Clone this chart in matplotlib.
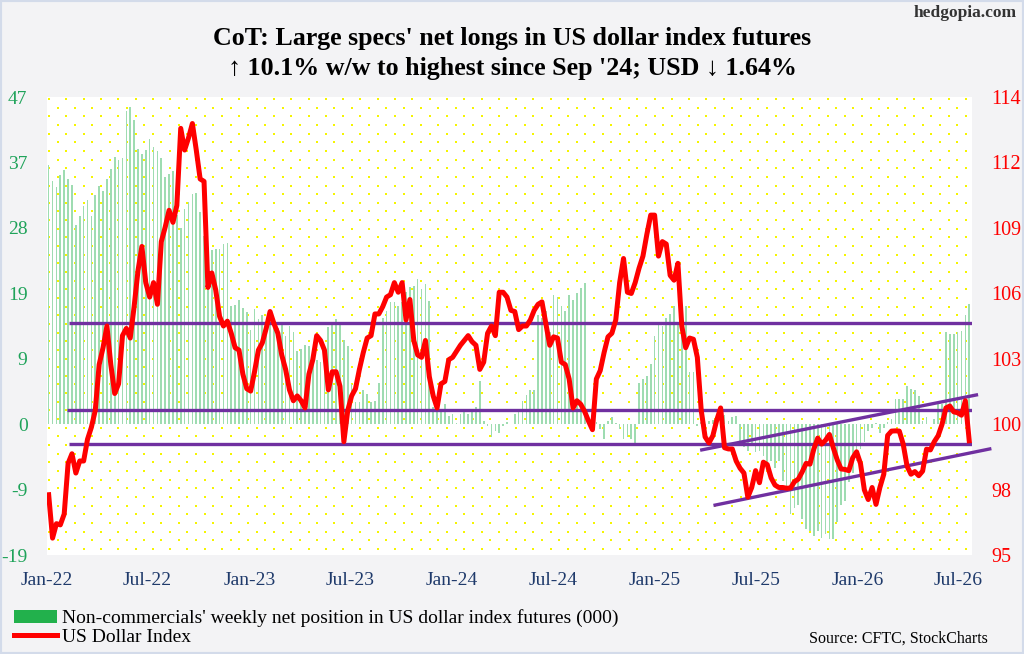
import numpy as np
import pandas as pd
import matplotlib
matplotlib.use('Agg')
import matplotlib.pyplot as plt
from matplotlib.patches import Patch, Rectangle
from matplotlib.lines import Line2D

plt.rcParams['font.family'] = ['Liberation Serif', 'DejaVu Serif']

# weekly CoT dates
weeks = pd.date_range('2022-01-04', periods=238, freq='7D')

# non-commercials' net position in US dollar index futures (000 contracts)
net_longs = [
    36.95, 34.7, 33.8, 35.5, 36.2, 34.9, 34.1, 28.4, 29.7, 31.05,
    31.96, 29.7, 32.7, 34.0, 33.2, 34.9, 36.4, 38.1, 37.7, 38.0,
    44.7, 45.2, 43.4, 39.3, 38.5, 39.1, 40.7, 39.5, 38.9, 38.0,
    35.2, 35.7, 36.1, 29.8, 28.0, 30.7, 31.7, 32.8, 32.96, 30.2,
    26.9, 24.0, 24.9, 25.0, 25.0, 25.7, 25.9,
    16.8, 17.0, 17.7, 16.5, 16.0, 13.4, 16.4, 15.0, 15.5, 14.5, 15.0,
    14.5, 13.65, 14.1, 12.6, 14.0, 13.2, 10.5, 10.7, 11.3, 11.1,
    9.75, 9.2, 8.8, 10.7, 13.9, 14.5, 15.0, 14.5, 12.0, 11.1,
    5.7, 3.1, 3.1, 4.9, 4.3, 3.1, 3.3, 5.9, 15.2, 16.2,
    17.4, 17.4, 16.9, 17.4, 18.8, 19.5, 19.7, 20.7, 19.3, 20.0,
    17.6, 2.4, 2.9, 2.1, 2.9, 1.2, 1.4, 0.2, 1.4, 1.9,
    1.4, 1.7, 2.4, 6.2, 0.5, -0.2, -1.9, -1.0, -1.2, -0.2,
    0.3,
    0.0, 1.4, 1.9, 3.3, 4.1, 4.8, 4.8, 15.5, 15.1, 16.2,
    13.1, 18.4, 18.1, 16.9, 16.2, 18.4, 17.7, 18.7, 19.4, 20.2,
    0.3, -0.3, 0.3, -0.7, -2.1, 0.5, 1.0, 0.2, -0.7, -2.1, -1.9, -2.1, -3.1,
    5.9, 6.4, 6.9, 8.6, 12.6, 14.3, 14.0, 15.2, 15.7, 16.9, 14.5, 14.5, 16.9, 7.4, 7.4,
    -0.2, 0.3, -0.7, 0.4, 0.6, 0.9, 0.4, 1.3, 0.5,
    0.95, 1.2,
    -2.4, -3.3, -3.8, -3.1, -4.0, -3.8, -4.5, -5.7, -5.2, -6.2,
    -5.2, -8.1, -8.8, -12.8, -11.9, -11.6, -13.5, -15.0, -15.2, -15.9,
    -15.2, -16.2, -15.7, -16.4, -16.4, -14.0, -11.6, -10.9, -8.3, -6.9,
    -5.2, -3.6, -2.6, -1.0, -0.5, 0.2, -1.2,
    -0.5, 0.3, 0.8, 3.6, 3.6, 3.6, 5.5, 5.0, 4.8, 4.0,
    0.5, 0.95, 0.0, 0.7, 3.1, 2.9, 13.1, 12.8, 12.8, 13.2,
    13.3, 15.6, 17.2,
]

# US dollar index, weekly close
usd = [
    97.5, 95.7, 96.3, 96.25, 96.7, 98.8, 99.2, 98.4, 98.9, 98.9,
    99.8, 100.3, 101.0, 102.9, 103.6, 104.5, 102.9, 101.7, 102.1, 104.1,
    104.4, 104.0, 105.3, 106.8, 107.8, 106.3, 105.7, 106.3, 105.4, 108.0,
    108.6, 109.3, 108.8, 109.5, 112.7, 111.8, 112.3, 112.9, 111.8, 110.6,
    110.5, 106.1, 106.7, 106.0, 104.9, 104.5, 104.7, 104.2, 103.6, 103.5,
    102.5, 101.9, 101.8, 102.6, 103.5, 103.8, 104.4, 105.1, 104.6, 104.2,
    103.3,
    102.7, 101.85, 101.4, 101.6, 101.4, 101.1, 102.5, 103.1, 104.1, 103.9,
    103.5, 101.85, 102.6, 102.6, 102.0, 99.7, 101.0, 101.6, 101.9, 102.7,
    103.4, 104.0, 104.1, 105.0, 105.0, 105.3, 105.7, 105.8, 106.3, 105.9,
    106.3, 104.75, 105.6, 103.9, 103.3, 103.2, 103.9, 102.4, 101.6, 101.1,
    102.1, 102.2, 103.1, 103.2, 103.45, 103.7, 103.9, 104.1, 103.85, 103.7,
    102.7, 103.0, 104.2, 104.5, 104.1, 105.9, 105.9, 105.7,
    105.15, 105.1, 104.35, 104.5, 104.5, 104.75, 105.15, 105.4, 105.5, 104.6,
    103.7, 104.05, 104.0, 103.0, 102.9, 102.3, 101.1, 101.4, 101.25, 100.95,
    100.55, 100.2, 102.3, 102.65, 103.4, 104.05, 104.2, 104.75, 106.3, 107.3,
    105.9, 105.85, 106.3, 106.9, 107.4, 108.3, 109.1, 109.1, 107.4, 108.0,
    107.9, 106.6, 106.4, 107.1, 104.5, 103.6, 104.0, 103.95, 103.2, 101.0,
    99.9, 99.65, 99.95, 100.6, 101.1, 99.45, 99.4,
    99.4, 98.9, 98.6, 98.4, 97.4, 97.8, 98.5, 98.0, 98.85, 98.75,
    98.2, 97.9, 97.8, 97.8, 97.77, 97.78, 98.04, 98.15, 98.45, 98.8,
    98.77, 99.4, 99.85, 99.6, 99.76, 100.0, 99.45, 98.95, 98.57, 98.55,
    98.5, 99.03, 99.28, 98.8, 97.7, 97.3, 97.8, 97.1, 97.8, 98.35,
    99.96, 100.14, 100.15, 100.14, 99.6, 98.68, 98.35, 98.46, 98.29, 98.48,
    99.39, 99.36, 99.7, 99.95, 100.42, 101.1, 101.18, 100.94, 100.9, 100.8,
    101.4, 99.74,
]

left_labels = ['-19', '-9', '0', '9', '19', '28', '37', '47']
right_labels = ['95', '98', '100', '103', '106', '109', '112', '114']
x_labels = ['Jan-22', 'Jul-22', 'Jan-23', 'Jul-23', 'Jan-24',
            'Jul-24', 'Jan-25', 'Jul-25', 'Jan-26', 'Jul-26']
x_label_dates = pd.to_datetime(['2022-01-01', '2022-07-01', '2023-01-01', '2023-07-01',
                                '2024-01-01', '2024-07-01', '2025-01-01', '2025-07-01',
                                '2026-01-01', '2026-07-01'])

# horizontal support/resistance on USD and the rising channel
h_levels = [104.62, 101.01, 99.60]
h_starts = pd.to_datetime(['2022-02-09', '2022-02-06', '2022-02-10'])
chan_lower_x = pd.to_datetime(['2025-04-19', '2026-08-27'])
chan_lower_y = [97.07, 99.40]
chan_upper_x = pd.to_datetime(['2025-03-26', '2026-08-03'])
chan_upper_y = [99.36, 101.64]

x_left = pd.Timestamp('2022-01-01')
x_right = pd.Timestamp('2026-07-26')

fig = plt.figure(figsize=(10.24, 6.54), dpi=100, facecolor='#f3f3f5')
ax = fig.add_axes([47 / 1024, 1 - 555 / 654, 925 / 1024, 458 / 654])
ax.set_facecolor('white')

# yellow dotted background
W, H = 925.0, 458.0
dx, dy = [], []
for r, yy in enumerate(np.arange(2, H, 8.65)):
    off = 0 if r % 2 == 0 else 8.65
    for xx in np.arange(off + 2, W, 17.3):
        dx.append(xx / W)
        dy.append(1 - yy / H)
ax.scatter(dx, dy, s=2.6, marker='s', color='#f5f500', linewidths=0,
           transform=ax.transAxes, zorder=0)

ax.bar(weeks, net_longs, width=3.0, color='#9edcb1', linewidth=0, zorder=2)
ax.set_xlim(x_left, x_right)
ax.set_ylim(-56 / 3, 140 / 3)
ax.set_yticks(np.linspace(-56 / 3, 140 / 3, 8))
ax.set_yticklabels(left_labels)
ax.tick_params(axis='y', length=0, pad=14, labelsize=14, labelcolor='#1fa35a')
ax.set_xticks(x_label_dates)
ax.set_xticklabels(x_labels)
ax.tick_params(axis='x', length=0, pad=12, labelsize=14, labelcolor='#1f3a6b')

ax2 = ax.twinx()
for lvl, st in zip(h_levels, h_starts):
    ax2.plot([st, x_right], [lvl, lvl], color='#7030a0', lw=2.4,
             solid_capstyle='butt', zorder=3)
ax2.plot(chan_lower_x, chan_lower_y, color='#7030a0', lw=2.4, clip_on=False, zorder=3)
ax2.plot(chan_upper_x, chan_upper_y, color='#7030a0', lw=2.4, clip_on=False, zorder=3)
ax2.plot(weeks, usd, color='#ff0000', lw=3.6, solid_joinstyle='round', zorder=4)
ax2.set_xlim(x_left, x_right)
ax2.set_ylim(95, 114)
ax2.set_yticks(np.linspace(95, 114, 8))
ax2.set_yticklabels(right_labels)
ax2.tick_params(axis='y', length=0, pad=14, labelsize=14.5, labelcolor='#ff0000')

for a in (ax, ax2):
    for s in a.spines.values():
        s.set_visible(False)

fig.text(0.5, 1 - 38 / 654, "CoT: Large specs' net longs in US dollar index futures",
         ha='center', va='center', fontsize=18.7, fontweight='bold')
fig.text(0.5, 1 - 68 / 654, "\u2191 10.1% w/w to highest since Sep '24; USD \u2193 1.64%",
         ha='center', va='center', fontsize=18.7, fontweight='bold')
fig.text(1017 / 1024, 1 - 13 / 654, 'hedgopia.com', ha='right', va='center',
         fontsize=12.5, fontweight='bold', color='#333333')
fig.text(988 / 1024, 1 - 639 / 654, 'Source: CFTC, StockCharts', ha='right', va='center',
         fontsize=11.5)

handles = [Patch(facecolor='#22b14c'), Line2D([], [], color='#ff0000', lw=3.6)]
labels = ["Non-commercials' weekly net position in US dollar index futures (000)",
          'US Dollar Index']
fig.legend(handles, labels, loc='lower left', bbox_to_anchor=(14 / 1024, 8 / 654),
           frameon=False, fontsize=14, handlelength=2.2, handletextpad=0.25,
           labelspacing=0.05, borderpad=0, borderaxespad=0)

fig.patches.append(Rectangle((0, 0), 1, 1, transform=fig.transFigure, fill=False,
                             edgecolor='#d3dbea', linewidth=3))

fig.savefig('out.png', dpi=100, facecolor=fig.get_facecolor())
